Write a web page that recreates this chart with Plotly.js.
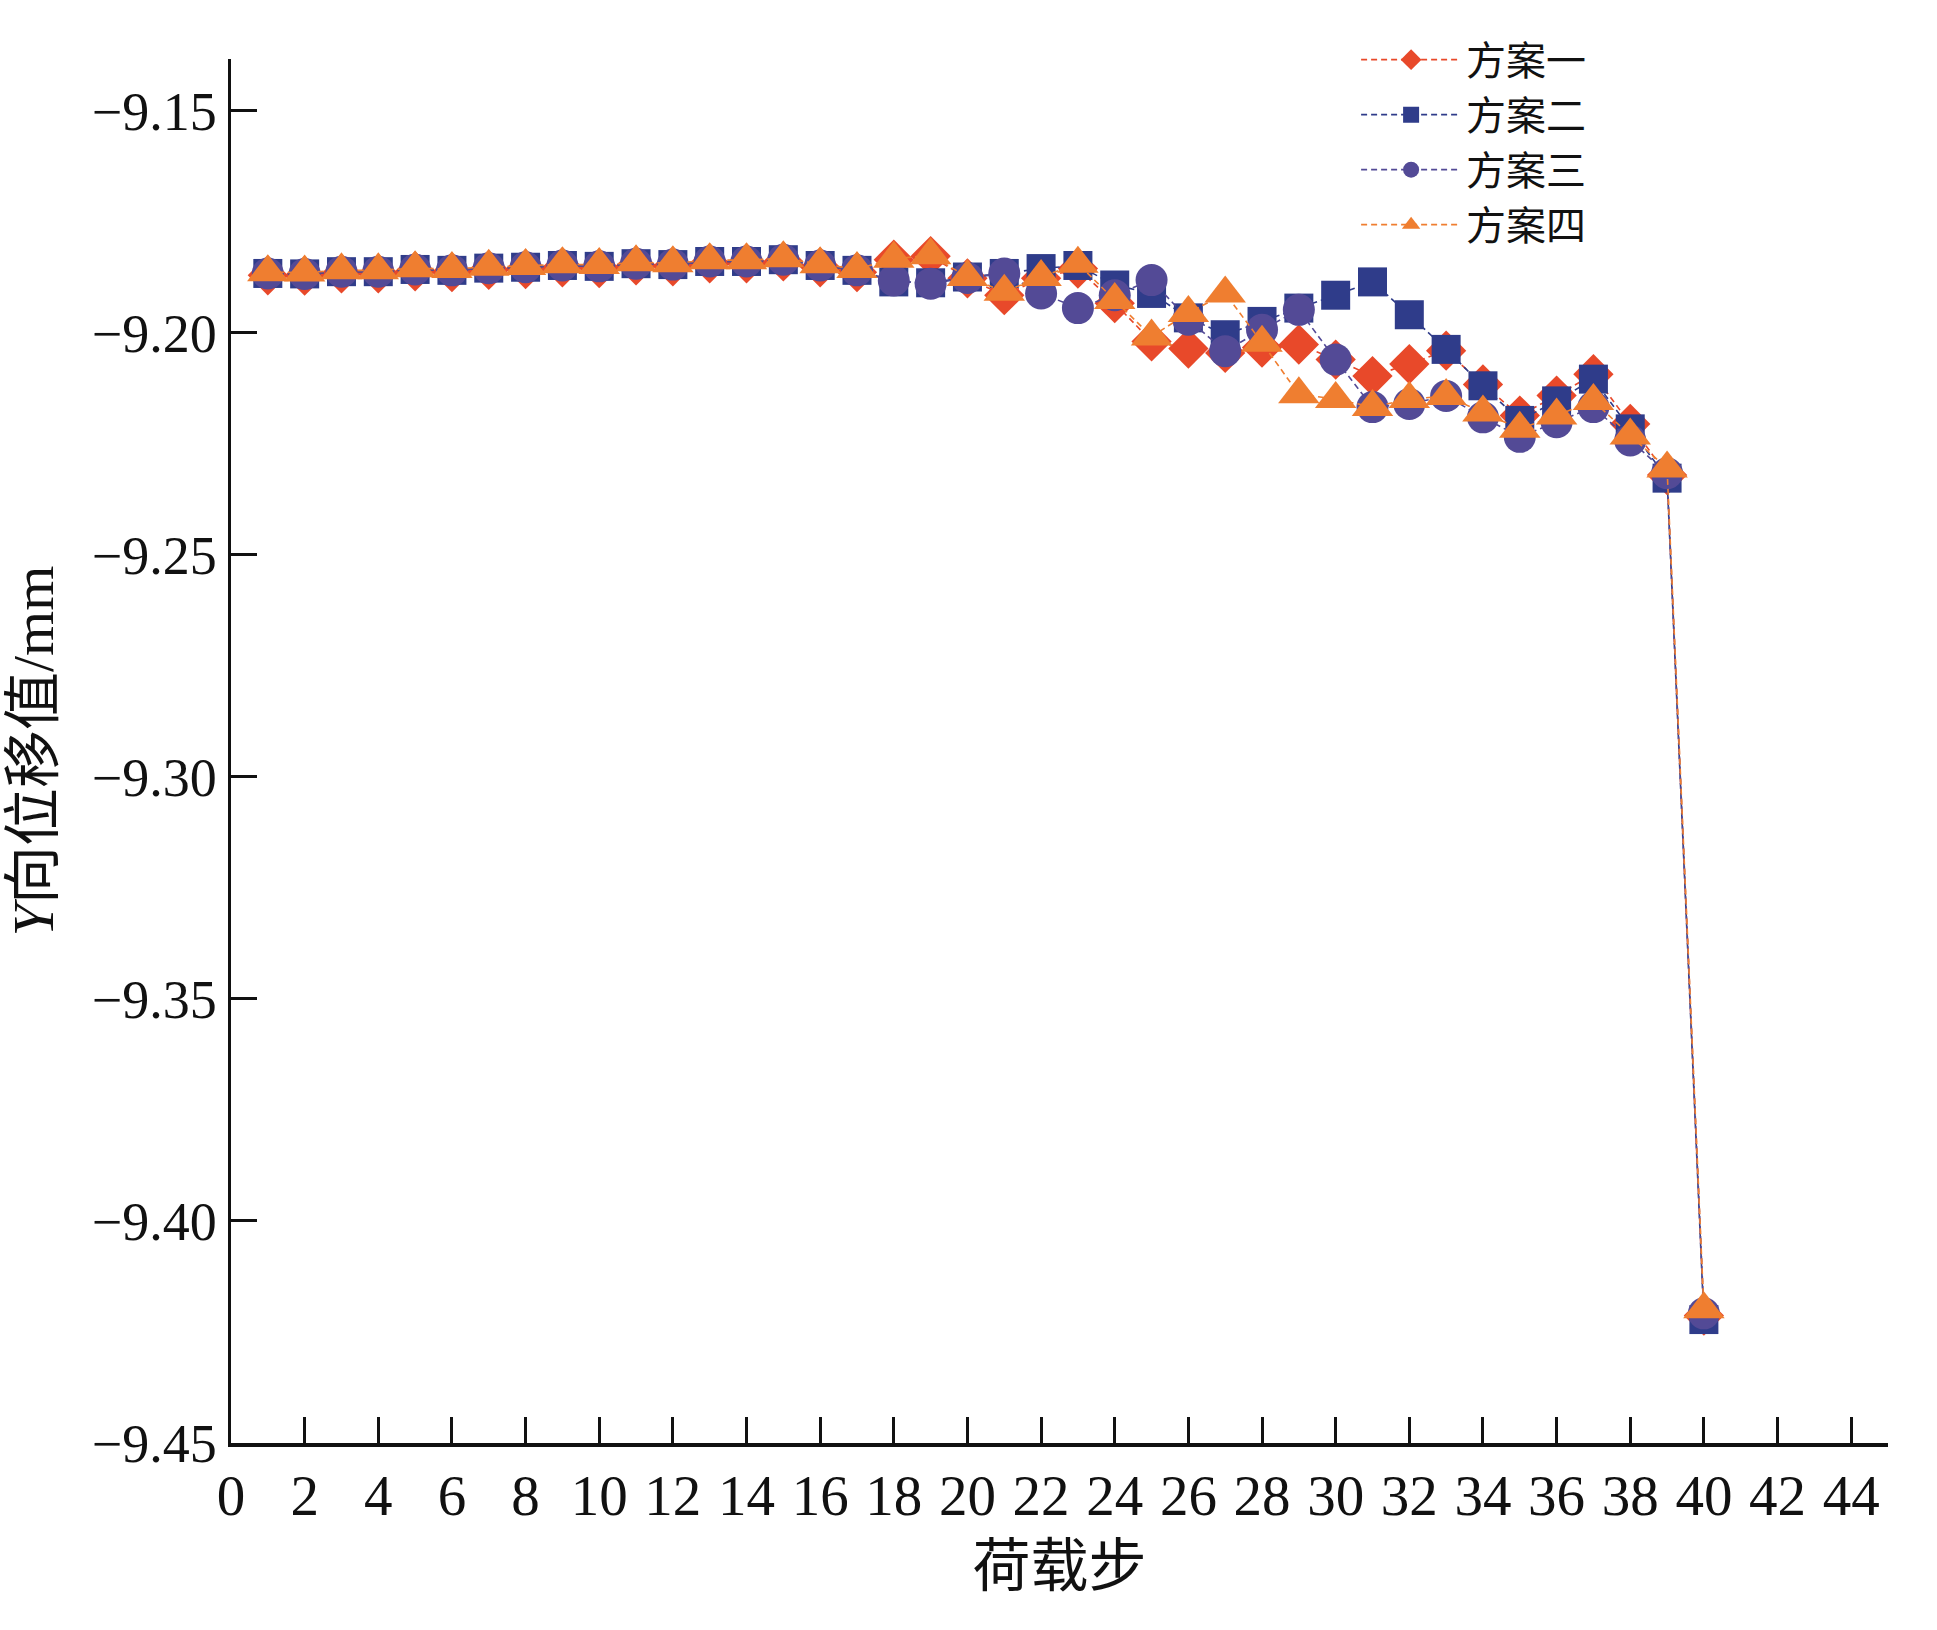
<!DOCTYPE html>
<html>
<head>
<meta charset="utf-8">
<script src="https://cdn.plot.ly/plotly-3.0.1.min.js"></script>
<style>
  html, body { margin: 0; padding: 0; background: #ffffff; }
  #chart { width: 1937px; height: 1630px; }
</style>
</head>
<body>
<div id="chart"></div>
<script>
// Load steps
const steps = [1,2,3,4,5,6,7,8,9,10,11,12,13,14,15,16,17,18,19,20,
               21,22,23,24,25,26,27,28,29,30,31,32,33,34,35,36,37,38,39,40];

// 方案一 (diamond)
const plan1 = [-9.1870,-9.1871,-9.1866,-9.1866,-9.1861,-9.1863,-9.1858,-9.1856,-9.1852,-9.1854,
               -9.1848,-9.1850,-9.1843,-9.1843,-9.1839,-9.1852,-9.1863,-9.1835,-9.1827,-9.1877,
               -9.1915,-9.1877,-9.1855,-9.1933,-9.2019,-9.2035,-9.2045,-9.2033,-9.2026,-9.2060,
               -9.2097,-9.2070,-9.2040,-9.2116,-9.2186,-9.2141,-9.2093,-9.2205,-9.2320,-9.4213];

// 方案二 (square)
const plan2 = [-9.1866,-9.1867,-9.1862,-9.1862,-9.1857,-9.1859,-9.1854,-9.1852,-9.1848,-9.1850,
               -9.1844,-9.1846,-9.1839,-9.1839,-9.1835,-9.1848,-9.1859,-9.1885,-9.1887,-9.1874,
               -9.1866,-9.1855,-9.1848,-9.1892,-9.1911,-9.1966,-9.2004,-9.1974,-9.1944,-9.1915,
               -9.1885,-9.1959,-9.2037,-9.2119,-9.2197,-9.2153,-9.2104,-9.2216,-9.2327,-9.4222];

// 方案三 (circle)
const plan3 = [-9.1866,-9.1867,-9.1862,-9.1862,-9.1857,-9.1859,-9.1854,-9.1852,-9.1848,-9.1850,
               -9.1844,-9.1846,-9.1839,-9.1839,-9.1835,-9.1848,-9.1859,-9.1882,-9.1889,-9.1876,
               -9.1866,-9.1911,-9.1944,-9.1915,-9.1881,-9.1970,-9.2041,-9.1993,-9.1948,-9.2060,
               -9.2167,-9.2160,-9.2142,-9.2190,-9.2234,-9.2201,-9.2167,-9.2242,-9.2316,-9.4208];

// 方案四 (triangle)
const plan4 = [-9.1863,-9.1864,-9.1859,-9.1859,-9.1854,-9.1856,-9.1851,-9.1849,-9.1845,-9.1847,
               -9.1841,-9.1843,-9.1836,-9.1836,-9.1832,-9.1845,-9.1856,-9.1833,-9.1825,-9.1874,
               -9.1907,-9.1874,-9.1844,-9.1926,-9.2008,-9.1955,-9.1911,-9.2022,-9.2138,-9.2149,
               -9.2167,-9.2149,-9.2142,-9.2179,-9.2216,-9.2186,-9.2153,-9.2231,-9.2305,-9.4199];

const seriesNames = ['方案一','方案二','方案三','方案四'];
const xTickVals = [0,2,4,6,8,10,12,14,16,18,20,22,24,26,28,30,32,34,36,38,40,42,44];
const yTickVals = [-9.45,-9.40,-9.35,-9.30,-9.25,-9.20,-9.15];

const colors = ['#E8492A', '#2F3C8A', '#534A96', '#EF7E30'];
const symbols = ['diamond', 'square', 'circle', 'triangle-up'];
const sizes = [31, 29, 32, 36];
const data = [plan1, plan2, plan3, plan4];

const traces = data.map((ys, i) => ({
  x: steps,
  y: ys,
  name: seriesNames[i],
  type: 'scatter',
  mode: 'lines+markers',
  line: { color: colors[i], width: 1.6, dash: '6px,4px' },
  marker: { symbol: symbols[i], size: sizes[i], color: colors[i], line: { width: 0 } }
}));

const serif = '"Liberation Serif", "Times New Roman", "Noto Sans CJK SC", serif';
const cjk = '"Liberation Serif", "Noto Sans CJK SC", serif';

const layout = {
  width: 1937,
  height: 1630,
  paper_bgcolor: '#ffffff',
  plot_bgcolor: '#ffffff',
  margin: { l: 231, r: 49, t: 59, b: 187 },
  showlegend: true,
  legend: {
    x: 0.679, y: 1.023, xanchor: 'left', yanchor: 'top',
    bgcolor: 'rgba(0,0,0,0)',
    font: { family: cjk, size: 40, color: '#111111' },
    itemwidth: 100,
    tracegroupgap: 0
  },
  xaxis: {
    range: [0, 45],
    tickvals: xTickVals,
    ticktext: xTickVals.map(String),
    ticks: 'inside',
    ticklen: 26,
    tickwidth: 3,
    tickcolor: '#111111',
    showline: true,
    linewidth: 3.5,
    linecolor: '#111111',
    showgrid: false,
    zeroline: false,
    mirror: false,
    tickfont: { family: serif, size: 57, color: '#111111' },
    title: { text: '荷载步', font: { family: cjk, size: 58, color: '#111111' }, standoff: 20 }
  },
  yaxis: {
    range: [-9.45, -9.1383],
    tickvals: yTickVals,
    ticktext: yTickVals.map(v => '\u2212' + Math.abs(v).toFixed(2)),
    ticks: 'inside',
    ticklen: 26,
    tickwidth: 3,
    tickcolor: '#111111',
    showline: true,
    linewidth: 3.5,
    linecolor: '#111111',
    showgrid: false,
    zeroline: false,
    mirror: false,
    tickfont: { family: serif, size: 54, color: '#111111' },
    title: { text: '<i>Y</i>向位移值/mm', font: { family: cjk, size: 58, color: '#111111' }, standoff: 20 }
  }
};

Plotly.newPlot('chart', traces, layout, { displayModeBar: false, staticPlot: true });
</script>
</body>
</html>
